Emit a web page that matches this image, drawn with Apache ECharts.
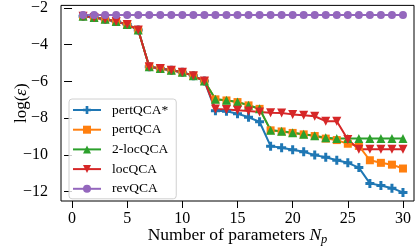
<!DOCTYPE html>
<html><head><meta charset="utf-8">
<script src="https://cdn.jsdelivr.net/npm/echarts@6/dist/echarts.min.js"></script>
<style>html,body{margin:0;padding:0;background:#fff}#c{width:415px;height:251px}</style>
</head><body><div id="c"></div>
<script>
const xs = [1,2,3,4,5,6,7,8,9,10,11,12,13,14,15,16,17,18,19,20,21,22,23,24,25,26,27,28,29,30];
const common = [-2.45,-2.52,-2.62,-2.74,-2.9,-3.2,-5.2,-5.3,-5.4,-5.5,-5.7,-5.98];
const pertStarTail = [-7.6,-7.63,-7.76,-7.96,-8.2,-9.53,-9.62,-9.73,-9.84,-10.02,-10.14,-10.3,-10.44,-10.7,-11.56,-11.68,-11.82,-12.05];
const pertTail = [-6.98,-7.04,-7.13,-7.31,-7.5,-8.67,-8.73,-8.81,-8.89,-8.98,-9.12,-9.2,-9.4,-9.52,-10.3,-10.44,-10.54,-10.75];
const twoLocTail = [-6.97,-7.03,-7.12,-7.3,-7.49,-8.66,-8.72,-8.8,-8.88,-8.97,-9.07,-9.12,-9.12,-9.12,-9.12,-9.12,-9.12,-9.12];
const locTail = [-7.5,-7.53,-7.58,-7.62,-7.67,-7.71,-7.72,-7.8,-7.85,-7.9,-8.17,-8.17,-9.17,-9.7,-9.7,-9.7,-9.7,-9.7];
const revQCA = [-2.38,-2.38,-2.38,-2.38,-2.38,-2.38,-2.38,-2.38,-2.38,-2.38,-2.38,-2.38,-2.38,-2.38,-2.38,-2.38,-2.38,-2.38,-2.38,-2.38,-2.38,-2.38,-2.38,-2.38,-2.38,-2.38,-2.38,-2.38,-2.38,-2.38];
const names = ['pertQCA*','pertQCA','2-locQCA','locQCA','revQCA'];
const colors = ['#1f77b4','#ff7f0e','#2ca02c','#d62728','#9467bd'];
const xTicks = [0,5,10,15,20,25,30];
const yTicks = [-12,-10,-8,-6,-4,-2];

const values = [
  common.concat(pertStarTail),
  common.concat(pertTail),
  common.concat(twoLocTail),
  common.concat(locTail),
  revQCA
];
const plusPath = 'path://M-1,-3L1,-3L1,-1L3,-1L3,1L1,1L1,3L-1,3L-1,1L-3,1L-3,-1L-1,-1Z';
const symbols = [plusPath,'rect','triangle','triangle','circle'];
const symSizes = [9,8,9,9,8];
const rot = [0,0,0,180,0];
const FONT = 'Liberation Serif';
const fmt = v => String(v).replace('-', '\u2212');

const series = names.map((n,i)=>({
  name:n, type:'line',
  data: xs.map((x,j)=>[x, values[i][j]]),
  symbol: symbols[i], symbolSize: symSizes[i], symbolRotate: rot[i],
  showAllSymbol:true,
  lineStyle:{color:colors[i], width:2},
  itemStyle:{color:colors[i], borderWidth:0},
  emphasis:{disabled:true},
  animation:false
}));

const chart = echarts.init(document.getElementById('c'), null, {renderer:'canvas'});
chart.setOption({
  animation:false,
  grid:{left:61, right:1, top:2, bottom:46, show:true, borderColor:'#000', borderWidth:1, backgroundColor:'transparent'},
  xAxis:{
    type:'value', min:-1, max:31,
    axisLine:{show:false},
    splitLine:{show:false},
    axisTick:{show:true, length:7, lineStyle:{color:'#000', width:1}, customValues:xTicks},
    axisLabel:{color:'#000', fontFamily:FONT, fontSize:16, margin:10, customValues:xTicks, formatter:fmt},
    name:'Number of parameters {i|N}{s|p}',
    nameLocation:'middle', nameGap:24, nameMoveOverlap:false,
    nameTextStyle:{color:'#000', fontFamily:FONT, fontSize:17.5,
      rich:{i:{fontFamily:FONT, fontStyle:'italic', fontSize:17.5, color:'#000'},
            s:{fontFamily:FONT, fontStyle:'italic', fontSize:12.5, color:'#000', padding:[8,0,0,0]}}}
  },
  yAxis:{
    type:'value', min:-12.52, max:-1.86,
    axisLine:{show:false},
    splitLine:{show:false},
    axisTick:{show:true, length:8, lineStyle:{color:'#000', width:1}, customValues:yTicks},
    axisLabel:{color:'#000', fontFamily:FONT, fontSize:16, margin:13, customValues:yTicks, formatter:fmt},
    name:'log({e|\u03B5})',
    nameLocation:'middle', nameGap:31, nameRotate:90, nameMoveOverlap:false,
    nameTextStyle:{color:'#000', fontFamily:FONT, fontSize:17,
      rich:{e:{fontFamily:FONT, fontStyle:'italic', fontSize:17, color:'#000'}}}
  },
  legend:{
    orient:'vertical', left:69, top:99,
    padding:[4,8,3,3],
    itemWidth:28, itemHeight:10, itemGap:5.7,
    backgroundColor:'rgba(255,255,255,0.8)',
    borderColor:'#d0d0d0', borderWidth:1, borderRadius:3,
    textStyle:{fontFamily:FONT, fontSize:13.5, color:'#000', padding:[0,0,0,6]},
    data:names
  },
  series: series
});
</script></body></html>
